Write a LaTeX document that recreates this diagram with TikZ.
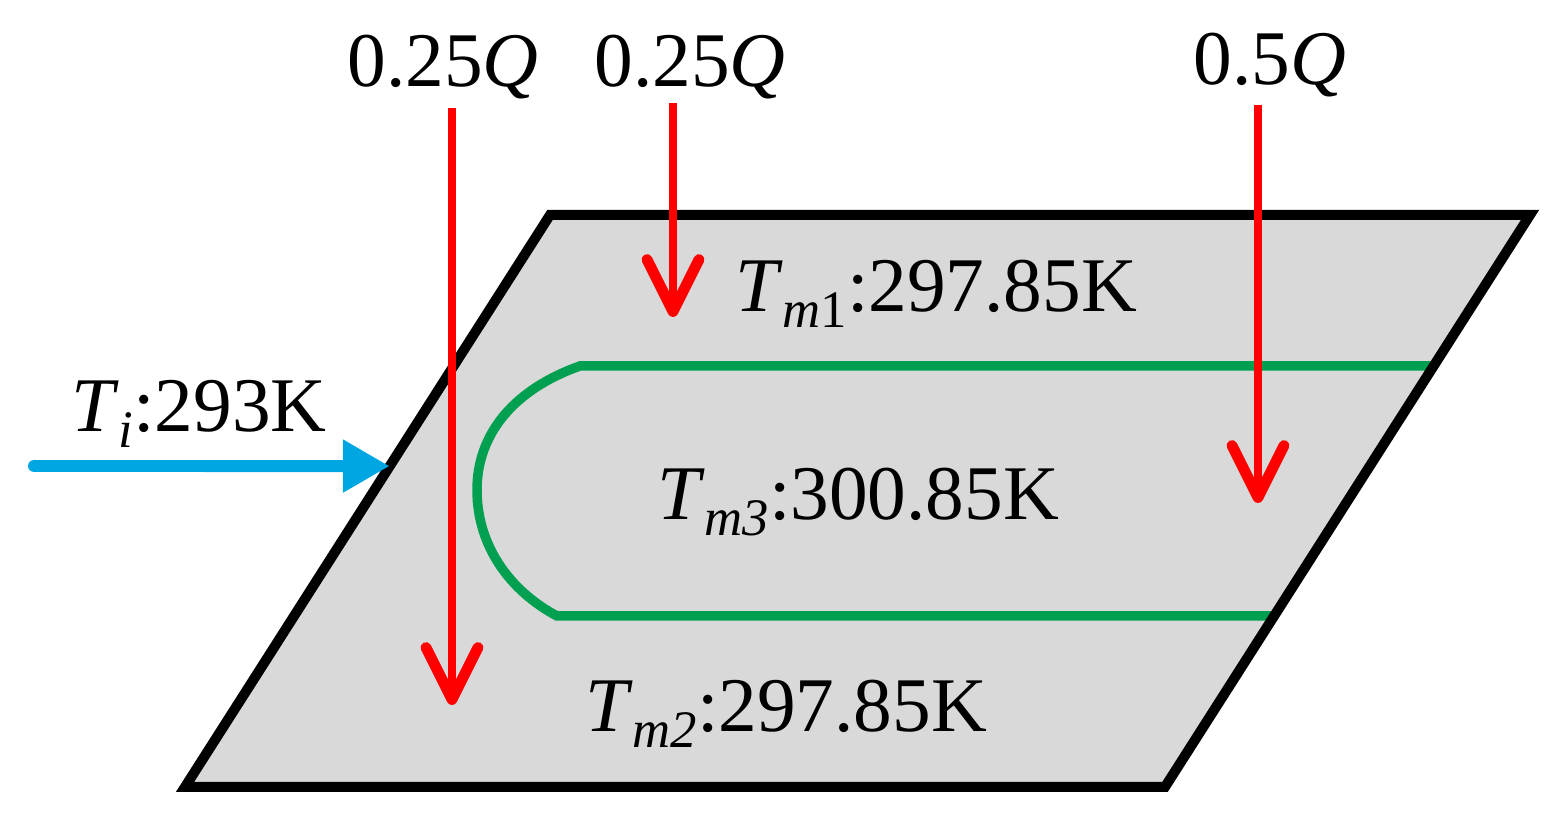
\documentclass[tikz,border=0pt]{standalone}
\usepackage{fontspec}
\setmainfont{Liberation Serif}
\usetikzlibrary{arrows.meta}
\usetikzlibrary{calc}

\definecolor{plategray}{RGB}{217,217,217}
\definecolor{pipegreen}{RGB}{0,160,80}
\definecolor{inletblue}{RGB}{0,166,226}
\definecolor{heatred}{RGB}{255,0,0}

\newcommand{\msub}[1]{\raisebox{-0.2em}{\fontsize{15}{15}\selectfont #1}}

\tikzset{
  heat/.style={->, line width=2.3pt, color=heatred},
  templabel/.style={anchor=base, inner sep=0pt, font=\fontsize{22}{26}\selectfont},
}

\begin{document}
\begin{tikzpicture}[>={Straight Barb[length=0.52cm, width=0.52cm, round, line width=3.1pt]}]
          \useasboundingbox (0,0) rectangle (15.63,8.21);

          % plate corners
          \coordinate (bl) at (1.85,0.34);
          \coordinate (br) at (11.65,0.34);
          \coordinate (tr) at (15.30,6.06);
          \coordinate (tl) at (5.50,6.06);

          \fill[plategray] (bl) -- (br) -- (tr) -- (tl) -- cycle;

          % cooling channel
          \coordinate (gtop) at (5.80,4.55);
          \coordinate (gbot) at (5.57,2.05);
          \draw[pipegreen, line width=2.7pt]
          ($(br)!0.736!(tr)$) -- (gtop)
          .. controls (5.15,4.32) and (4.77,3.88) .. (4.77,3.31)
          .. controls (4.77,2.75) and (5.10,2.30) .. (gbot)
          -- ($(br)!0.299!(tr)$);

          \draw[line width=2.85pt, line join=miter] (bl) -- (br) -- (tr) -- (tl) -- cycle;

          % inlet
          \coordinate (tistart) at (0.34,3.55);
          \coordinate (tiend) at ($(bl)!0.561!(tl)$);
          \draw[line width=3.4pt, color=inletblue, line cap=round,
          -{Triangle[length=0.47cm, width=0.5cm]}] (tistart) -- (tiend);
          \node[templabel] (ti) at (1.99,3.89) {\textit{T}\msub{\textit{i}}:293K};

          % heat flux
          \node[templabel] (qa) at (4.43,7.34) {0.25\textit{Q}};
          \node[templabel] (qb) at (6.90,7.34) {0.25\textit{Q}};
          \node[templabel] (qc) at (12.70,7.36) {0.5\textit{Q}};

          \coordinate (qastart) at (4.52,7.13);
          \coordinate (qaend) at (4.52,1.16);
          \coordinate (qbstart) at (6.73,7.18);
          \coordinate (qbend) at (6.73,5.04);
          \coordinate (qcstart) at (12.58,7.16);
          \coordinate (qcend) at (12.58,3.18);

          \draw[heat] (qastart) -- (qaend);
          \draw[heat] (qbstart) -- (qbend);
          \draw[heat] (qcstart) -- (qcend);

          % zone temperatures
          \node[templabel] (tm1) at (9.36,5.09) {\textit{T}\msub{\textit{m}1}:297.85K};
          \node[templabel] (tm3) at (8.58,3.01) {\textit{T}\msub{\textit{m3}}:300.85K};
          \node[templabel] (tm2) at (7.86,0.89) {\textit{T}\msub{\textit{m2}}:297.85K};

        \end{tikzpicture}
\end{document}
